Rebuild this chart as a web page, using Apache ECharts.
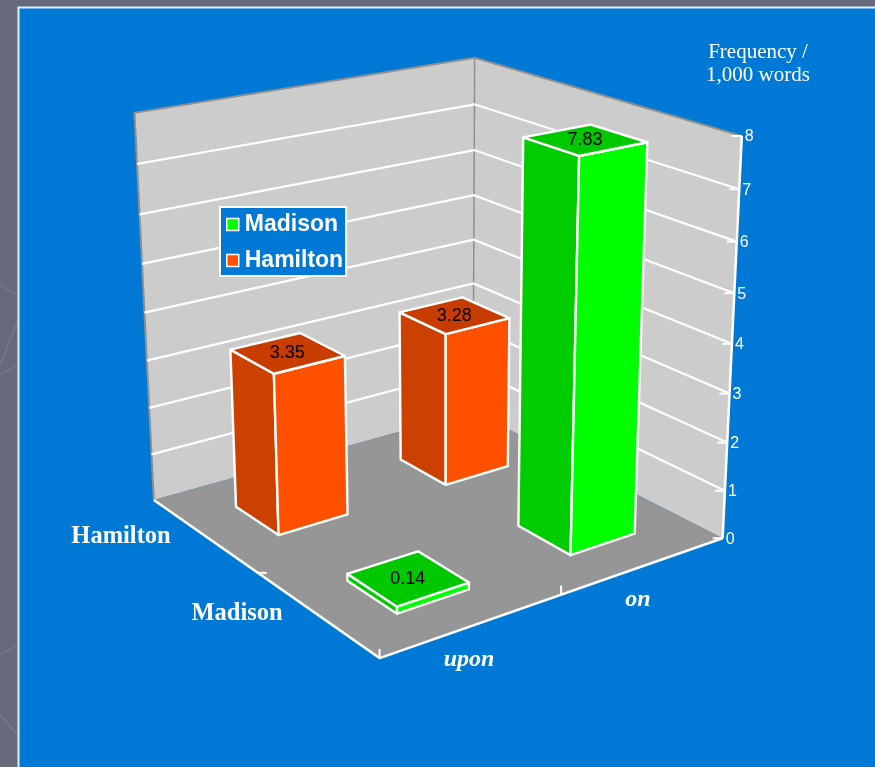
<!DOCTYPE html>
<html>
<head>
<meta charset="utf-8">
<style>html,body{margin:0;padding:0;background:#686a7b;}#c{width:875px;height:767px;}</style>
<script src="https://cdn.jsdelivr.net/npm/echarts@6/dist/echarts.min.js"></script>
</head>
<body>
<div id="c"></div>
<script>
const words = ['upon', 'on'];
const authors = ['Madison', 'Hamilton'];
const madisonValues = [0.14, 7.83];
const hamiltonValues = [3.35, 3.28];
const valueTicks = [0, 1, 2, 3, 4, 5, 6, 7, 8];
const axisMax = 8;
const axisTitle = ['Frequency /', '1,000 words'];

/* camera fit: floor/wall anchors [u,v,w,x,y] */
const anchors = [
  [0,0,0,380,658],[1,0,0,722,538],[0,1,0,153,500],[1,1,0,474,411],
  [1,0,1,742,135],[0,1,1,135,113],[1,1,1,474,58],[1,0,0.5,732,345]
];
function solveCamera(pts){
  const n=11, A=[], b=[];
  pts.forEach(p=>{
    const [u,v,w,x0,y0]=p, x=x0/1000, y=y0/1000;
    A.push([u,v,w,1,0,0,0,0,-x*u,-x*v,-x*w]); b.push(x);
    A.push([0,0,0,0,u,v,w,1,-y*u,-y*v,-y*w]); b.push(y);
  });
  const M=[];
  for(let i=0;i<n;i++){
    M.push([]);
    for(let j=0;j<n;j++){let s=0;A.forEach(r=>s+=r[i]*r[j]);M[i].push(s);}
    let s=0;A.forEach((r,k)=>s+=r[i]*b[k]);M[i].push(s);
  }
  for(let i=0;i<n;i++){
    let m=i;for(let k=i+1;k<n;k++)if(Math.abs(M[k][i])>Math.abs(M[m][i]))m=k;
    [M[i],M[m]]=[M[m],M[i]];
    for(let k=0;k<n;k++){ if(k===i)continue; const f=M[k][i]/M[i][i]; for(let j=i;j<=n;j++)M[k][j]-=f*M[i][j]; }
  }
  return M.map((r,i)=>r[n]/r[i]);
}
const cam = solveCamera(anchors);
function project(u,v,w){
  const d=cam[8]*u+cam[9]*v+cam[10]*w+1;
  return [1000*(cam[0]*u+cam[1]*v+cam[2]*w+cam[3])/d, 1000*(cam[4]*u+cam[5]*v+cam[6]*w+cam[7])/d];
}
const W=875,H=767;
const WHITE='#ffffff', WALL='#cccccc', FLOOR='#969696', EDGE='#8f8f8f';
const halfU=0.1, halfV=0.1, shiftU=-0.004, shiftV=-0.006;
const colors={Madison:{right:'#00ff00',left:'#00cc00',top:'#00c800'},Hamilton:{right:'#ff5000',left:'#cc4000',top:'#c83c00'}};
const poly=(pts,fill,stroke,lw)=>({type:'polygon',shape:{points:pts},style:{fill:fill,stroke:stroke,lineWidth:lw||2.4,lineJoin:'round'}});
const line=(pts,stroke,lw)=>({type:'polyline',shape:{points:pts},style:{fill:null,stroke:stroke,lineWidth:lw||2}});
const text=(x,y,t,font,fill,align)=>({type:'text',style:{x:x,y:y,text:t,font:font,fill:fill||WHITE,align:align||'center',verticalAlign:'middle'}});

function renderFrame(){
  const c=[project(0,0,0),project(1,0,0),project(1,1,0),project(0,1,0)];
  const t=[project(1,0,1),project(1,1,1),project(0,1,1)];
  return {type:'group',children:[
    poly([c[3],c[2],t[1],t[2]],WALL,null),
    poly([c[2],c[1],t[0],t[1]],WALL,null),
    poly(c,FLOOR,null),
    line([c[3],t[2],t[1],t[0]],EDGE,2),
    line([c[2],t[1]],EDGE,1.5),
    line([c[3],c[0],c[1]],WHITE,2.5),
    line([c[1],t[0]],WHITE,2.5),
  ]};
}
function renderTick(params,api){
  const val=api.value(0);
  const w=val/axisMax;
  const a=project(0,1,w),b=project(1,1,w),r=project(1,0,w);
  const kids=[];
  if(val>0&&val<axisMax) kids.push(line([a,b,r],WHITE,2.2));
  kids.push(line([[r[0]-10,r[1]],[r[0],r[1]]],WHITE,2));
  kids.push(text(r[0]+3,r[1]+1,String(val),'16px "Liberation Sans"',WHITE,'left'));
  return {type:'group',children:kids};
}
function renderCategoryAxis(){
  const m1=project(0.5,0,0), m2=project(0,0.5,0), f=project(0,0,0);
  return {type:'group',children:[
    line([m1,[m1[0],m1[1]-9]],WHITE,2),
    line([m2,[m2[0]+9,m2[1]]],WHITE,2),
    line([f,[f[0],f[1]-9]],WHITE,2),
    text(469,660,words[0],'italic bold 24px "Liberation Serif"'),
    text(638,600,words[1],'italic bold 24px "Liberation Serif"'),
    text(121,537,authors[1],'bold 24.5px "Liberation Serif"'),
    text(237,614,authors[0],'bold 24.5px "Liberation Serif"'),
    text(758,52,axisTitle[0],'21px "Liberation Serif"'),
    text(758,75,axisTitle[1],'21px "Liberation Serif"'),
  ]};
}
function barRenderer(author){
  const v=(authors.indexOf(author)+0.5)/authors.length+shiftV;
  const col=colors[author];
  return function(params,api){
    const pt=api.coord([api.value(0),api.value(1)]);
    const u=pt[0]/W+shiftU, w=(H-pt[1])/H;
    const u0=u-halfU,u1=u+halfU,v0=v-halfV,v1=v+halfV;
    const b=[project(u0,v0,0),project(u1,v0,0),project(u0,v1,0)];
    const t=[project(u0,v0,w),project(u1,v0,w),project(u1,v1,w),project(u0,v1,w)];
    const cx=(t[0][0]+t[1][0]+t[2][0]+t[3][0])/4, cy=(t[0][1]+t[1][1]+t[2][1]+t[3][1])/4;
    return {type:'group',children:[
      poly([b[2],b[0],t[0],t[3]],col.left,WHITE),
      poly([b[0],b[1],t[1],t[0]],col.right,WHITE),
      poly(t,col.top,WHITE),
      text(cx,cy,api.value(1).toFixed(2),'18px "Liberation Sans"','#000000'),
    ]};
  };
}
const bgLines=[[[0,285],[18,295]],[[0,365],[18,320]],[[0,375],[18,365]],[[0,655],[18,645]],[[0,715],[18,735]]];
const chart=echarts.init(document.getElementById('c'),null,{renderer:'canvas',width:W,height:H});
chart.setOption({
  animation:false,
  backgroundColor:'#686a7b',
  graphic:[
    {type:'rect',z:-10,shape:{x:18.5,y:7.5,width:870,height:770},style:{fill:'#0079d6',stroke:'#d8f0ff',lineWidth:2}},
  ].concat(bgLines.map(p=>({type:'polyline',z:-11,shape:{points:p},style:{fill:null,stroke:'#73768a',lineWidth:2}}))),
  grid:{left:0,top:0,width:W,height:H,show:false},
  xAxis:{type:'category',data:words,show:false},
  yAxis:{type:'value',min:0,max:axisMax,show:false},
  legend:{
    data:authors.map(n=>({name:n,icon:'rect'})),orient:'vertical',left:220,top:207,
    padding:[6,3,4,6],itemGap:13,itemWidth:12,itemHeight:12,
    backgroundColor:'#0079d6',borderColor:WHITE,borderWidth:2,
    selectedMode:false,
    textStyle:{color:WHITE,fontFamily:'Liberation Sans',fontWeight:'bold',fontSize:23,padding:[0,0,0,1]},
    itemStyle:{borderColor:'#ffffff',borderWidth:1.5}
  },
  series:[
    {type:'custom',name:'frame',silent:true,z:1,clip:false,data:[[0,0]],renderItem:renderFrame},
    {type:'custom',name:'ticks',silent:true,z:2,clip:false,data:valueTicks.map(v=>[v]),encode:{x:-1,y:-1},coordinateSystem:'none',renderItem:renderTick},
    {type:'custom',name:'labels',silent:true,z:3,clip:false,data:[[0,0]],renderItem:renderCategoryAxis},
    {type:'custom',name:authors[0],z:6,clip:false,itemStyle:{color:colors.Madison.right},data:words.map((w,i)=>[w,madisonValues[i]]),renderItem:barRenderer(authors[0])},
    {type:'custom',name:authors[1],z:5,clip:false,itemStyle:{color:colors.Hamilton.right},data:words.map((w,i)=>[w,hamiltonValues[i]]),renderItem:barRenderer(authors[1])},
  ]
});
</script>
</body>
</html>
